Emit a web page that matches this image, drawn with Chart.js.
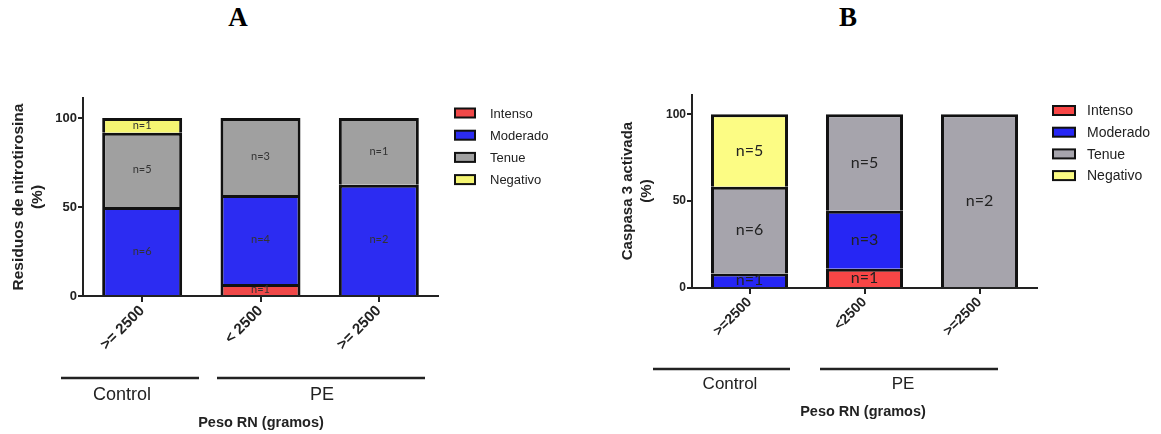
<!DOCTYPE html>
<html>
<head>
<meta charset="utf-8">
<script src="https://cdn.jsdelivr.net/npm/chart.js@4.4.1/dist/chart.umd.min.js"></script>
<style>
  html, body { margin: 0; padding: 0; background: #fff; }
  #wrap { position: relative; width: 1161px; height: 434px; overflow: hidden; background: #fff; }
  canvas { position: absolute; top: 0; }
  .panel-title { position: absolute; top: 2px; width: 40px; text-align: center;
                 font: bold 27px "Liberation Serif", "Times New Roman", serif; color: #000; }
</style>
</head>
<body>
<div id="wrap">
  <div class="panel-title" style="left:218px">A</div>
  <div class="panel-title" style="left:828px">B</div>
  <canvas id="chartA" width="580" height="434" style="left:0"></canvas>
  <canvas id="chartB" width="581" height="434" style="left:580px"></canvas>
</div>
<script>
// ---- shared labels ----
const seriesNames = ['Intenso', 'Moderado', 'Tenue', 'Negativo'];
const groupNames = ['Control', 'PE'];
const xAxisTitle = 'Peso RN (gramos)';
const yTickValues = [0, 50, 100];

// ---- panel A: residuos de nitrotirosina (%) ----
const categoriesA = ['>= 2500', '< 2500', '>= 2500'];
const intensoA  = [null, 6.7, null];
const moderadoA = [50, 50, 62.5];
const tenueA    = [41.7, 43.3, 37.5];
const negativoA = [8.3, null, null];
const nIntensoA  = [null, 1, null];
const nModeradoA = [6, 4, 2];
const nTenueA    = [5, 3, 1];
const nNegativoA = [1, null, null];

// ---- panel B: caspasa 3 activada (%) ----
const categoriesB = ['>=2500', '<2500', '>=2500'];
const intensoB  = [null, 11.1, null];
const moderadoB = [8.3, 33.3, null];
const tenueB    = [50, 55.6, 100];
const negativoB = [41.7, null, null];
const nIntensoB  = [null, 1, null];
const nModeradoB = [1, 3, null];
const nTenueB    = [6, 5, 2];
const nNegativoB = [5, null, null];

const panels = [
  {
    canvas: 'chartA', width: 580,
    area: { left: 83, right: 438, top: 98, bottom: 296 },
    yMax: 111.2,
    categories: categoriesA,
    values: [intensoA, moderadoA, tenueA, negativoA],
    counts: [nIntensoA, nModeradoA, nTenueA, nNegativoA],
    colors: ['#f04848', '#2c2cf2', '#a0a0a0', '#f5f572'],
    barPct: 0.676,
    yTitle: ['Residuos de nitrotirosina', '(%)'],
    yTitleX: [19, 38], yTitleY: 197, yTitleFont: 'bold 15.5px "Liberation Sans", Arial, sans-serif',
    tickFont: { family: '"Liberation Sans", Arial, sans-serif', size: 13, weight: 'bold' },
    xTickFont: { family: '"Liberation Sans", Arial, sans-serif', size: 15, weight: 'bold' },
    countFont: '11px Lato, "Open Sans", sans-serif', countColor: '#333',
    legend: { x: 455, textX: 490, y0: 113, dy: 22.2, boxW: 20, boxH: 9,
              font: '13px "Liberation Sans", Arial, sans-serif' },
    groups: [
      { x0: 61, x1: 199, lineY: 378, textX: 122, textY: 395 },
      { x0: 217, x1: 425, lineY: 378, textX: 322, textY: 395 }
    ],
    groupFont: '18px "Liberation Sans", Arial, sans-serif',
    xTitle: { x: 261, y: 423 },
    xTitleFont: 'bold 14.5px "Liberation Sans", Arial, sans-serif'
  },
  {
    canvas: 'chartB', width: 581,
    area: { left: 112, right: 457, top: 95, bottom: 288 },
    yMax: 111.1,
    categories: categoriesB,
    values: [intensoB, moderadoB, tenueB, negativoB],
    counts: [nIntensoB, nModeradoB, nTenueB, nNegativoB],
    colors: ['#f84646', '#2626f4', '#a6a4ac', '#fcfc84'],
    barPct: 0.67,
    yTitle: ['Caspasa 3 activada', '(%)'],
    yTitleX: [48, 67], yTitleY: 191, yTitleFont: 'bold 15px "Liberation Sans", Arial, sans-serif',
    tickFont: { family: '"Liberation Sans", Arial, sans-serif', size: 12, weight: 'bold' },
    xTickFont: { family: '"Liberation Sans", Arial, sans-serif', size: 14, weight: 'bold' },
    countFont: '16px Lato, "Open Sans", sans-serif', countColor: '#222',
    legend: { x: 473, textX: 507, y0: 110.5, dy: 21.7, boxW: 22, boxH: 9,
              font: '14px "Liberation Sans", Arial, sans-serif' },
    groups: [
      { x0: 73, x1: 210, lineY: 369, textX: 150, textY: 384 },
      { x0: 240, x1: 418, lineY: 369, textX: 323, textY: 384 }
    ],
    groupFont: '17px "Liberation Sans", Arial, sans-serif',
    xTitle: { x: 283, y: 412 },
    xTitleFont: 'bold 14.5px "Liberation Sans", Arial, sans-serif'
  }
];

// Draws the n= labels, the legend, the axis titles and the group brackets
function decorPlugin(p) {
  return {
    id: 'panelDecor',
    afterDatasetsDraw(chart) {
      const ctx = chart.ctx;
      ctx.save();
      ctx.font = p.countFont;
      ctx.fillStyle = p.countColor;
      ctx.textAlign = 'center';
      ctx.textBaseline = 'middle';
      chart.data.datasets.forEach((ds, di) => {
        const meta = chart.getDatasetMeta(di);
        meta.data.forEach((bar, i) => {
          const n = p.counts[di][i];
          if (n == null || ds.data[i] == null) return;
          ctx.fillText('n=' + n, bar.x, (bar.y + bar.base) / 2);
        });
      });
      ctx.restore();
    },
    afterDraw(chart) {
      const ctx = chart.ctx;
      ctx.save();
      // legend
      const L = p.legend;
      seriesNames.forEach((name, i) => {
        const cy = L.y0 + i * L.dy;
        ctx.fillStyle = p.colors[i];
        ctx.fillRect(L.x, cy - L.boxH / 2, L.boxW, L.boxH);
        ctx.strokeStyle = '#111';
        ctx.lineWidth = 2;
        ctx.strokeRect(L.x, cy - L.boxH / 2, L.boxW, L.boxH);
        ctx.fillStyle = '#222';
        ctx.font = L.font;
        ctx.textAlign = 'left';
        ctx.textBaseline = 'middle';
        ctx.fillText(name, L.textX, cy + 1);
      });
      // y axis title (two rotated lines)
      ctx.fillStyle = '#222';
      ctx.font = p.yTitleFont;
      ctx.textAlign = 'center';
      ctx.textBaseline = 'middle';
      p.yTitle.forEach((line, i) => {
        ctx.save();
        ctx.translate(p.yTitleX[i], p.yTitleY);
        ctx.rotate(-Math.PI / 2);
        ctx.fillText(line, 0, 0);
        ctx.restore();
      });
      // group brackets under the categories
      ctx.strokeStyle = '#222';
      ctx.lineWidth = 2.5;
      ctx.font = p.groupFont;
      p.groups.forEach((g, i) => {
        ctx.beginPath();
        ctx.moveTo(g.x0, g.lineY);
        ctx.lineTo(g.x1, g.lineY);
        ctx.stroke();
        ctx.fillText(groupNames[i], g.textX, g.textY);
      });
      // x axis title
      ctx.font = p.xTitleFont;
      ctx.fillText(xAxisTitle, p.xTitle.x, p.xTitle.y);
      ctx.restore();
    }
  };
}

panels.forEach(p => {
  new Chart(document.getElementById(p.canvas), {
    type: 'bar',
    data: {
      labels: p.categories,
      datasets: seriesNames.map((name, i) => ({
        label: name,
        data: p.values[i],
        backgroundColor: p.colors[i],
        borderColor: '#111',
        borderWidth: 3,
        borderSkipped: 'start',
        inflateAmount: 0,
        barPercentage: p.barPct,
        categoryPercentage: 1
      }))
    },
    options: {
      responsive: false,
      animation: false,
      devicePixelRatio: 1,
      layout: { padding: { top: p.area.top, right: p.width - p.area.right, bottom: 0, left: 0 } },
      plugins: { legend: { display: false }, tooltip: { enabled: false } },
      scales: {
        x: {
          stacked: true,
          grid: { offset: false, drawOnChartArea: false, drawTicks: true, tickLength: 6, color: '#222', lineWidth: 2 },
          border: { display: true, color: '#222', width: 2 },
          ticks: { color: '#222', font: p.xTickFont, minRotation: 45, maxRotation: 45, padding: 0 },
          afterFit(scale) { scale.height = 434 - p.area.bottom; }
        },
        y: {
          stacked: true,
          min: 0,
          max: p.yMax,
          afterBuildTicks(scale) { scale.ticks = yTickValues.map(v => ({ value: v })); },
          grid: { drawOnChartArea: false, drawTicks: true, tickLength: 5, color: '#222', lineWidth: 2 },
          border: { display: true, color: '#222', width: 2 },
          ticks: { color: '#222', font: p.tickFont, padding: 1 },
          afterFit(scale) { scale.width = p.area.left; }
        }
      }
    },
    plugins: [decorPlugin(p)]
  });
});
</script>
</body>
</html>
